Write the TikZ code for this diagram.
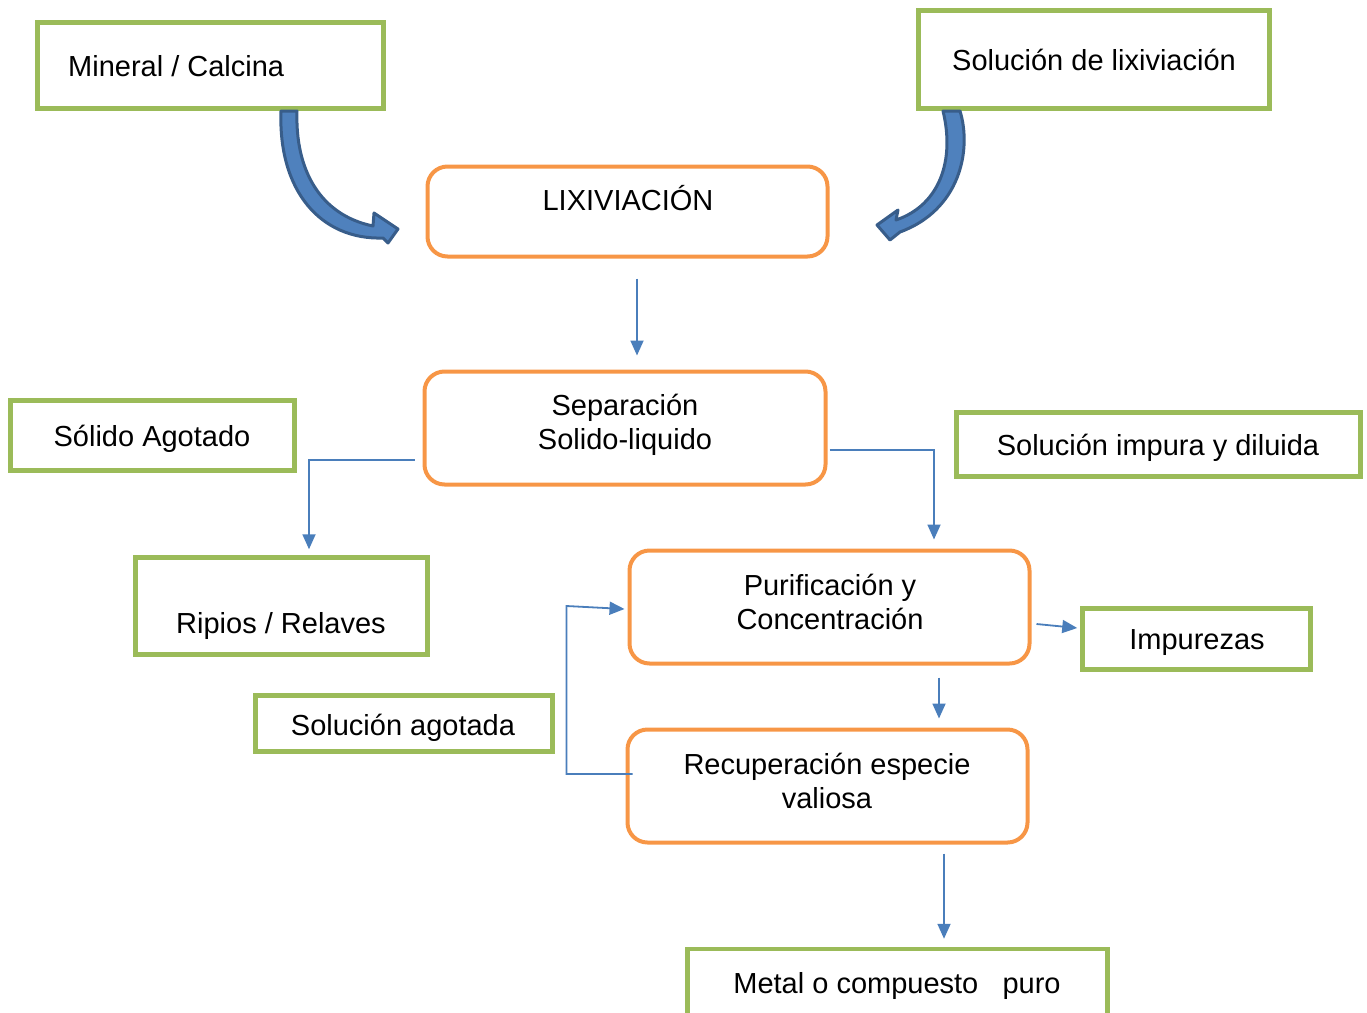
\documentclass[tikz,border=0pt]{standalone}
\usepackage{fontspec}
\setmainfont{Liberation Sans}
\usetikzlibrary{arrows.meta,calc}
\definecolor{gline}{HTML}{9BBB59}
\definecolor{oline}{HTML}{F79646}
\definecolor{cline}{HTML}{4A7EBB}
\definecolor{bfill}{HTML}{4F81BD}
\definecolor{bdark}{HTML}{385D8A}
\begin{document}
\begin{tikzpicture}[x=1pt,y=-1pt,
  greenbox/.style={draw=gline, line width=4.5pt, inner sep=0pt},
  orangebox/.style={draw=oline, line width=4pt, rounded corners=20pt, inner sep=0pt},
  txt/.style={font=\fontsize{29}{34}\selectfont, align=center, inner sep=0pt},
  conn/.style={draw=cline, line width=1.8pt},
  connarrow/.style={conn, -{Triangle[length=15pt,width=13pt]}},
  blockarrow/.style={fill=bfill, draw=bdark, line width=3pt, line join=round}
]
\clip (0,0) rectangle (1367,1012);
\useasboundingbox (0,0) rectangle (1367,1012);

% boxes
\node[greenbox, minimum width=346pt, minimum height=86pt] (mineral) at (210.5,65.5) {};
\node[greenbox, minimum width=351pt, minimum height=98pt] (solLix) at (1094,59.5) {};
\node[orangebox, minimum width=400pt, minimum height=90pt] (lix) at (627.5,211.5) {};
\node[orangebox, minimum width=401pt, minimum height=113pt] (sep) at (625,428) {};
\node[greenbox, minimum width=284pt, minimum height=70pt] (solido) at (152.5,435.5) {};
\node[greenbox, minimum width=404pt, minimum height=64pt] (impura) at (1158.5,444.5) {};
\node[greenbox, minimum width=292pt, minimum height=97pt] (ripios) at (281.5,606) {};
\node[orangebox, minimum width=400pt, minimum height=113pt] (purif) at (829.5,607) {};
\node[greenbox, minimum width=228pt, minimum height=61pt] (impur) at (1196.5,639) {};
\node[greenbox, minimum width=297pt, minimum height=56pt] (agotada) at (404,723.5) {};
\node[orangebox, minimum width=400pt, minimum height=113pt] (recup) at (827.5,786) {};
\node[greenbox, minimum width=420pt, minimum height=100pt] (metal) at (897.5,999) {};

% texts
\node[txt, anchor=west] (mineralT) at (68,66) {Mineral / Calcina};
\node[txt] (solLixT) at (1094,60) {Solución de lixiviación};
\node[txt] (lixT) at (628,198) {LIXIVIACIÓN};
\node[txt] (sepT) at (625,425) {Separación\\Solido-liquido};
\node[txt] (solidoT) at (152,439) {Sólido Agotado};
\node[txt] (impuraT) at (1158,448) {Solución impura y diluida};
\node[txt] (ripiosT) at (281,626) {Ripios / Relaves};
\node[txt] (purifT) at (830,602) {Purificación y\\Concentración};
\node[txt] (impurT) at (1197,643) {Impurezas};
\node[txt] (agotadaT) at (403,728) {Solución agotada};
\node[txt] (recupT) at (827,781) {Recuperación especie\\valiosa};
\node[txt] (metalT) at (897,986) {Metal o compuesto\ \ \ puro};

% curved block arrows
\path[blockarrow] (281,111) -- (297,111) .. controls (295,170) and (320,215) .. (373,226)
  -- (374,213) -- (398,229) -- (388,243) -- (383,238)
  .. controls (320,240) and (278,190) .. (281,111) -- cycle;
\path[blockarrow] (943,111) -- (960,111) .. controls (972,150) and (960,210) .. (900,232)
  -- (890,240) -- (877,225) -- (898,210) -- (896,220)
  .. controls (940,205) and (955,160) .. (943,111) -- cycle;

% connectors
\draw[connarrow] ($(lix.south)+(9.5,20)$) -- ($(lix.south)+(9.5,97)$);
\draw[connarrow] ($(sep.west)+(-8,32)$) -| ($(ripios.north)+(27.5,-6)$);
\draw[connarrow] ($(sep.east)+(2,22)$) -| ($(purif.north)+(104.5,-9)$);
\draw[connarrow] ($(purif.south)+(109.5,12)$) -- ++(0,41);
\draw[connarrow] ($(purif.east)+(5,17)$) -- ($(impur.west)+(-3,-11)$);
\draw[connarrow] ($(recup.west)+(7,-12)$) -- ++(-66,0) -- ++(0,-168) -- ($(purif.west)+(-3,2)$);
\draw[connarrow] ($(recup.south)+(116.5,9)$) -- ($(metal.north)+(46.5,-8)$);
\end{tikzpicture}
\end{document}
